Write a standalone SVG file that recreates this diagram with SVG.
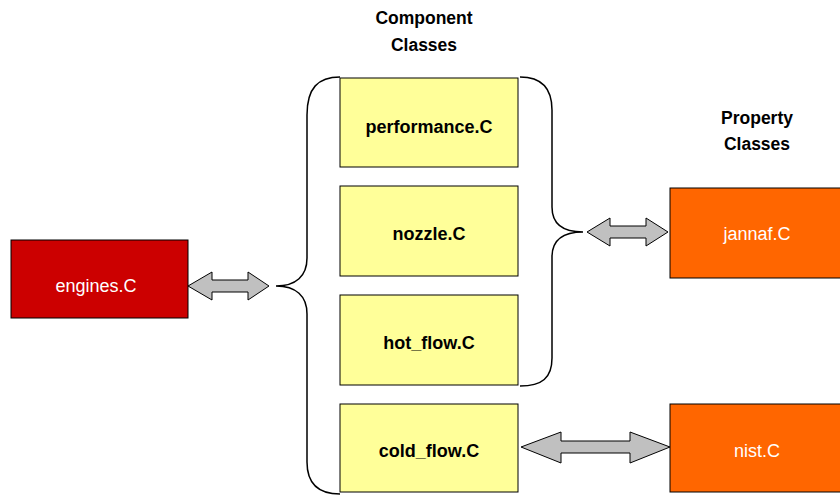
<svg xmlns="http://www.w3.org/2000/svg" width="840" height="497" viewBox="0 0 840 497">
<style>
.t{font-family:"Liberation Sans",Arial,sans-serif;font-size:18px;text-anchor:middle}
.b{font-weight:bold;fill:#000}
.w{fill:#fff}
.h{font-family:"Liberation Sans",Arial,sans-serif;font-size:17.5px;font-weight:bold;text-anchor:middle;fill:#000}
.y{fill:#FFFF99;stroke:#000;stroke-width:1}
.brace{fill:none;stroke:#000;stroke-width:1.5}
.arr{fill:#C0C0C0;stroke:#000;stroke-width:1}
</style>
<rect width="840" height="497" fill="#fff"/>
<g id="headers">
<text class="h" x="424" y="24">Component</text>
<text class="h" x="424" y="51">Classes</text>
<text class="h" x="757" y="124">Property</text>
<text class="h" x="757" y="150">Classes</text>
</g>
<g id="engines"><rect x="11" y="240" width="177" height="78" fill="#CC0000" stroke="#000"/><text class="t w" x="96" y="292">engines.C</text></g>
<g id="performance"><rect class="y" x="340" y="78" width="178" height="89"/><text class="t b" x="429" y="133">performance.C</text></g>
<g id="nozzle"><rect class="y" x="340" y="186" width="178" height="90"/><text class="t b" x="429" y="240">nozzle.C</text></g>
<g id="hot_flow"><rect class="y" x="340" y="295" width="178" height="90"/><text class="t b" x="429" y="349">hot_flow.C</text></g>
<g id="cold_flow"><rect class="y" x="340" y="404" width="178" height="88"/><text class="t b" x="429" y="457">cold_flow.C</text></g>
<g id="jannaf"><rect x="670" y="188" width="175" height="90" fill="#FF6600" stroke="#000"/><text class="t w" x="757" y="240">jannaf.C</text></g>
<g id="nist"><rect x="670" y="404" width="175" height="88" fill="#FF6600" stroke="#000"/><text class="t w" x="757" y="457">nist.C</text></g>
<g id="connectors">
<path class="brace" d="M340,77 C318,77 307,88 307,115 L307,258 C307,276 296,286 276,286 C296,286 307,296 307,314 L307,462 C307,484 318,494 340,494"/>
<path class="brace" d="M520,77 C542,77 552,88 552,110 L552,207 C552,224 562,232 583,232 C562,232 552,240 552,257 L552,358 C552,378 542,386 520,386"/>
<polygon class="arr" points="188,286 212,272 212,280 248,280 248,272 269,286 248,300 248,292 212,292 212,300"/>
<polygon class="arr" points="587,232 610,218 610,226 646,226 646,218 668,232 646,246 646,238 610,238 610,246"/>
<polygon class="arr" points="521,447 561,432 561,441 630,441 630,432 670,447 630,463 630,453 561,453 561,463"/>
</g>
</svg>
